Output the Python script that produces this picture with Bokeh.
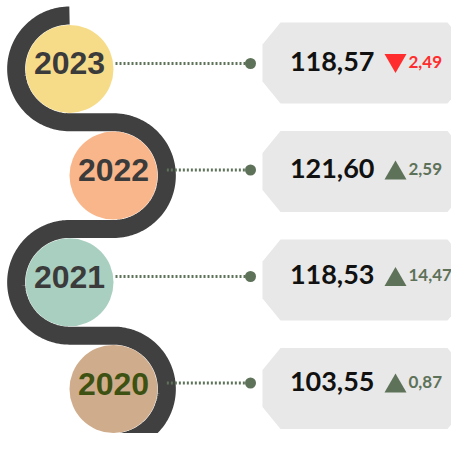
import numpy as np
from bokeh.plotting import figure
from bokeh.models import Range1d, ColumnDataSource
from bokeh.core.properties import value
from bokeh.embed import file_html
from bokeh.resources import INLINE

# ---- data ----
years = ["2023", "2022", "2021", "2020"]
values = ["118,57", "121,60", "118,53", "103,55"]
changes = ["2,49", "2,59", "14,47", "0,87"]
directions = ["down", "up", "up", "up"]
circle_colors = ["#f6dc89", "#f9b68a", "#a9cfc0", "#cfac8b"]
year_colors = ["#3b3b3b", "#3b3b3b", "#3b3b3b", "#3d5212"]

GREEN = "#5e7259"
RED = "#ff2d2d"
DARK = "#404040"
BOX = "#e8e8e8"

# ---- figure (data coords == picture pixel coords) ----
W, H = 451, 433
p = figure(width=W, height=H, x_range=Range1d(0, W), y_range=Range1d(H, 0),
           output_backend="svg", toolbar_location=None, min_border=0)
p.axis.visible = False
p.grid.visible = False
p.outline_line_color = None
p.background_fill_color = "white"
p.border_fill_color = "white"

n = len(years)
idx = np.arange(n)
STEP = 106.7
R_PATH = STEP / 2
R_CIRC = 44
cy = 68.4 + STEP * idx
cx = np.where(idx % 2 == 0, 69.0, 113.0)
label_y = 63 + 106.5 * idx
box_y = 62.5 + 108.5 * idx

# ---- boxes (chamfered) ----
bx0, bx1, bh, cdx, cdy = 262, 465, 81, 18, 22
xs, ys = [], []
for y in box_y:
    t, b = y - bh / 2, y + bh / 2
    xs.append([bx0, bx0 + cdx, bx1 - cdx, bx1, bx1, bx1 - cdx, bx0 + cdx, bx0])
    ys.append([t + cdy, t, t, t + cdy, b - cdy, b, b, b - cdy])
p.patches(xs, ys, fill_color=BOX, line_color=None)

# ---- S path ----
px, py = [], []
for i in range(n):
    if i % 2 == 0:
        t = np.linspace(np.pi * 1.5, np.pi * 0.5, 80)
    else:
        t = np.linspace(-np.pi * 0.5, np.pi * 0.5, 80)
    px.extend(cx[i] + R_PATH * np.cos(t))
    py.extend(cy[i] + R_PATH * np.sin(t))
px.append(68.0)
py.append(cy[-1] + R_PATH)
p.line(px, py, line_color=DARK, line_width=18, line_cap="butt", line_join="round")

# ---- circles ----
p.circle(cx, cy, radius=R_CIRC, fill_color=circle_colors, line_color=None)

# ---- dotted connectors and dots ----
x_start = np.where(idx % 2 == 0, cx + R_CIRC + 2, cx + R_PATH)
p.segment(x0=x_start, y0=label_y, x1=np.full(n, 246.0), y1=label_y,
          line_color=GREEN, line_width=3, line_dash="2 2")
p.scatter(np.full(n, 250.0), label_y, marker="circle", size=11, fill_color=GREEN, line_color=None)

# ---- year labels ----
p.text(cx, cy - 5.5, text=years, text_align="center", text_baseline="middle",
       text_font=value("Liberation Sans"), text_font_style="bold", text_font_size="32px",
       text_color=year_colors)

# ---- values ----
p.text(np.full(n, 374.0), label_y - 2, text=values, text_align="right", text_baseline="middle",
       text_font=value("Lato"), text_font_style="bold", text_font_size="27px",
       text_color="#111111")

# ---- change arrows + text ----
is_up = np.array([d == "up" for d in directions])
ch_colors = [GREEN if u else RED for u in is_up]
tri_y = np.where(is_up, label_y + 3.2, label_y - 3.2)
markers = ["triangle" if u else "inverted_triangle" for u in is_up]
src = ColumnDataSource(dict(x=np.full(n, 395.0), y=tri_y, m=markers, c=ch_colors))
p.scatter("x", "y", marker="m", size=22, fill_color="c", line_color=None, source=src)
p.text(np.full(n, 408.0), label_y - 1.5, text=changes, text_align="left", text_baseline="middle",
       text_font=value("Lato"), text_font_style="bold", text_font_size="17px",
       text_color=ch_colors)

open("out.html", "w").write(file_html(p, INLINE))
